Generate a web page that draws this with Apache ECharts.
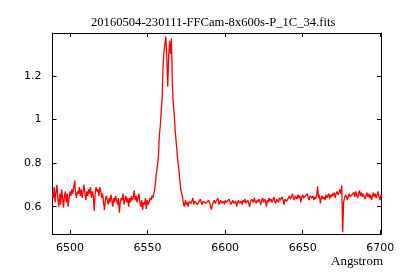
<!DOCTYPE html>
<html>
<head>
<meta charset="utf-8">
<script src="https://cdn.jsdelivr.net/npm/echarts@6/dist/echarts.min.js"></script>
<style>html,body{margin:0;padding:0;background:#fff;}#c{width:400px;height:280px;}</style>
</head>
<body>
<div id="c"></div>
<script>
const titleText = "20160504-230111-FFCam-8x600s-P_1C_34.fits";
const xAxisName = "Angstrom";
const xTicks = [6500, 6550, 6600, 6650, 6700];
const yTicks = [0.6, 0.8, 1, 1.2];
const waveStep = 0.6;

// blue continuum, starting at 6488.6 A
const blueStart = 6488.6;
const fluxBlue = [
  0.66,0.64,0.69,0.62,0.67,0.70,0.63,0.60,0.66,0.61,0.68,
  0.64,0.595,0.65,0.67,0.62,0.66,0.60,0.64,
  0.67,0.65,0.68,0.66,0.69,0.72,0.66,
  0.64,0.67,0.66,0.69,0.65,0.68,0.64,0.67,0.70,0.66,0.63,0.67,0.65,
  0.68,0.66,0.69,0.64,0.67,0.65,0.58,
  0.66,0.69,0.67,0.68,0.65,0.69,0.67,
  0.64,0.66,0.62,0.585,0.63,0.65,
  0.63,0.61,0.64,0.62,0.655,0.63,0.60,0.64,0.62,0.65,0.63,0.61,0.64,0.573,0.62,0.64,0.63,0.66,0.61,0.63,0.65,0.62,0.64,0.60,
  0.64,0.62,0.65,0.63,0.64,0.675,0.63,0.65,0.62,0.64,0.66,
  0.62,0.60,0.63,0.585,0.62,0.61,0.64,0.59,0.63,0.61,0.62,0.64,
  0.63,0.65,0.64
];

// H-alpha emission, starting at 6554.0 A
const lineStart = 6554.0;
const fluxLine = [
  0.66,0.68,0.72,0.76,0.79,0.83,0.93,0.97,1.04,1.10,
  1.24,1.31,1.35,1.38,1.28,1.15,1.29,1.36,1.30,1.37,
  1.16,1.07,1.02,0.95,0.90,0.85,0.80,0.77,0.72,0.68,
  0.66,0.64,0.61,0.60
];

// red continuum, starting at 6574.4 A
const redStart = 6574.4;
const fluxRed = [
  0.63,0.61,0.62,0.60,0.625,0.63,0.615,0.62,0.64,0.61,
  0.625,0.62,0.63,0.61,0.62,0.615,0.635,0.62,0.61,0.625,
  0.62,0.63,0.615,0.62,0.61,0.63,0.62,0.60,0.587,0.61,
  0.62,0.63,0.615,0.625,0.62,0.64,0.61,0.62,0.63,0.615,
  0.62,0.625,0.61,0.63,0.62,0.615,0.625,0.635,0.62,0.61,
  0.62,0.63,0.615,0.62,0.625,0.60,0.62,0.63,0.615,0.62,
  0.625,0.61,0.63,0.62,0.635,0.615,0.62,0.63,0.625,0.60,
  0.62,0.635,0.63,0.62,0.64,0.625,0.615,0.63,0.62,0.635,
  0.625,0.61,0.63,0.64,0.62,0.635,0.625,0.60,0.63,0.62,
  0.64,0.625,0.635,0.62,0.63,0.645,0.625,0.615,0.635,0.63,
  0.62,0.64,0.63,0.625,0.645,0.63,0.61,0.635,0.64,0.625,
  0.635,
  0.64,0.65,0.635,0.645,0.66,0.64,0.63,0.65,0.645,0.635,
  0.655,0.64,0.65,0.62,0.645,0.655,0.64,0.635,0.65,0.645,
  0.66,0.64,0.63,0.65,0.645,
  0.64,0.65,0.63,0.645,0.635,0.65,0.694,0.64,0.655,0.615,0.64,0.65,0.635,
  0.645,0.63,0.655,0.64,0.65,0.66,0.635,0.655,0.645,0.66,0.65,0.665,0.64,0.66,0.67,0.655,0.665,0.68,0.66,
  0.697,0.483,0.62,
  0.64,0.655,0.645,0.63,0.65,0.66,0.645,0.64,0.655,0.65,
  0.665,0.645,0.67,0.655,0.64,0.66,0.675,0.65,0.665,0.645,
  0.66,0.655,0.635,0.65,0.665,0.645,0.66,0.64,0.655,0.63,
  0.65,0.665,0.645,0.66,0.64,0.655,0.67,0.645,0.63,0.655,0.645
];

function segment(start, flux) {
  return flux.map((f, i) => [+(start + i * waveStep).toFixed(2), f]);
}
const data = [].concat(segment(blueStart, fluxBlue), segment(lineStart, fluxLine), segment(redStart, fluxRed));

const axisCommon = {
  type: 'value',
  axisLine: { show: true, onZero: false, lineStyle: { color: '#000', width: 1 } },
  splitLine: { show: false },
  axisTick: { show: true, inside: true, length: 4, lineStyle: { color: '#000', width: 1 } }
};
const labelFont = { color: '#000', fontFamily: 'DejaVu Sans', fontSize: 11 };

const chart = echarts.init(document.getElementById('c'), null, { renderer: 'canvas' });
chart.setOption({
  animation: false,
  backgroundColor: '#fff',
  title: {
    text: titleText, left: 86, top: 11,
    textStyle: { fontFamily: 'Liberation Serif', fontSize: 12.6, fontWeight: 'normal', color: '#000' }
  },
  grid: { left: 52.5, right: 19, top: 33, bottom: 46 },
  xAxis: [
    Object.assign({}, axisCommon, {
      position: 'bottom', min: 6488.7, max: 6700.5,
      axisTick: Object.assign({}, axisCommon.axisTick, { customValues: xTicks }),
      axisLabel: Object.assign({ margin: 9, customValues: xTicks, formatter: v => String(v) }, labelFont)
    }),
    Object.assign({}, axisCommon, {
      position: 'top', min: 6488.7, max: 6700.5,
      axisTick: Object.assign({}, axisCommon.axisTick, { customValues: xTicks }),
      axisLabel: { show: false, customValues: xTicks }
    })
  ],
  yAxis: [
    Object.assign({}, axisCommon, {
      position: 'left', min: 0.475, max: 1.396,
      axisTick: Object.assign({}, axisCommon.axisTick, { customValues: yTicks }),
      axisLabel: Object.assign({ margin: 11, customValues: yTicks, formatter: v => String(v) }, labelFont)
    }),
    Object.assign({}, axisCommon, {
      position: 'right', min: 0.475, max: 1.396,
      axisTick: Object.assign({}, axisCommon.axisTick, { customValues: yTicks }),
      axisLabel: { show: false, customValues: yTicks }
    })
  ],
  graphic: [{
    type: 'text', right: 17, top: 255,
    style: { text: xAxisName, fill: '#000', font: '13px "Liberation Serif"' }
  }],
  series: [{
    type: 'line', xAxisIndex: 0, yAxisIndex: 0, data: data,
    showSymbol: false, symbol: 'none', clip: true,
    lineStyle: { color: '#ff0000', width: 1.3 }
  }]
});
</script>
</body>
</html>
